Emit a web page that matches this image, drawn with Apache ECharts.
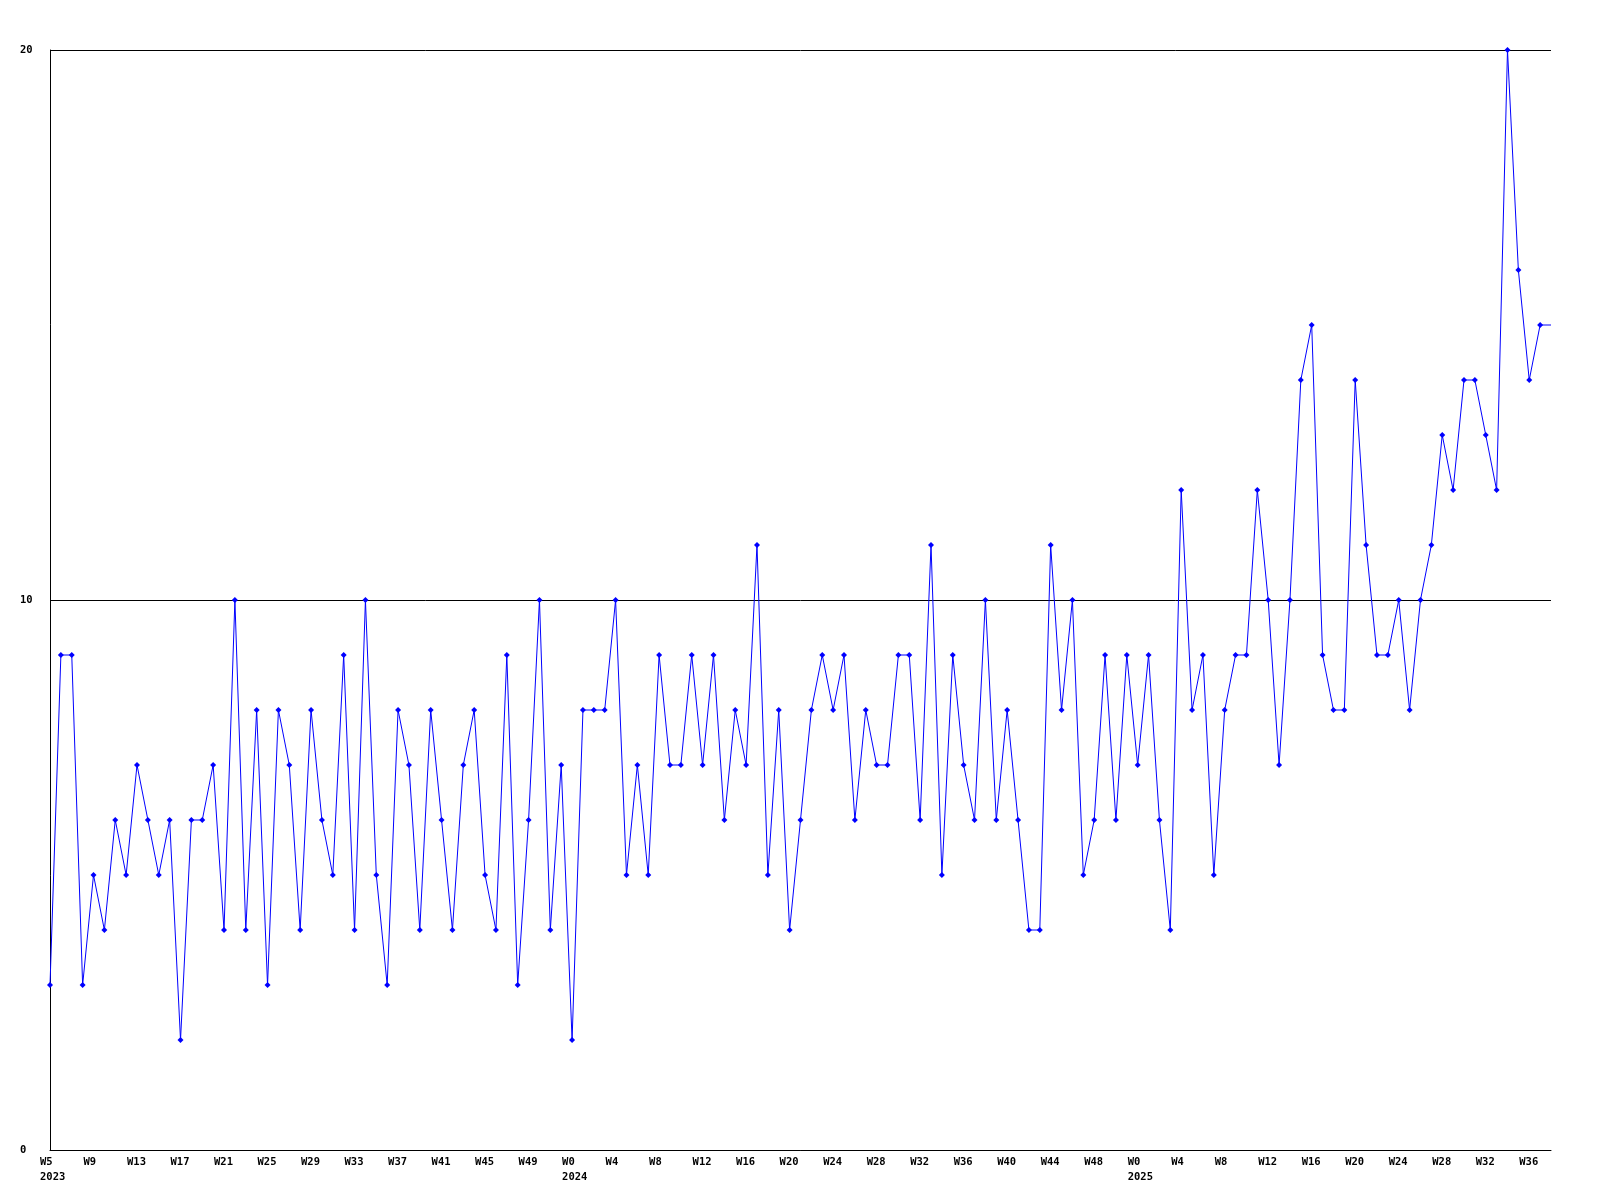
<!DOCTYPE html>
<html>
<head>
<meta charset="utf-8">
<script src="https://cdn.jsdelivr.net/npm/echarts@6/dist/echarts.min.js"></script>
<style>
  html, body { margin: 0; padding: 0; background: #fff; }
  #chart { width: 1600px; height: 1200px; }
</style>
</head>
<body>
<div id="chart"></div>
<script>
// weekly spans: [year, first week, last week]
const yearSpans = [[2023, 5, 52], [2024, 0, 51], [2025, 0, 38]];

const weeks = [];
const years = [];
yearSpans.forEach(([y, a, b]) => {
  for (let w = a; w <= b; w++) { weeks.push(w); years.push(y); }
});
const categories = weeks.map((w, i) => years[i] + '-W' + w);

// one value per week
const counts2023 = [
  3, 9, 9, 3, 5, 4, 6, 5, 7, 6, 5, 6, 2, 6, 6, 7, 4, 10, 4, 8,
  3, 8, 7, 4, 8, 6, 5, 9, 4, 10, 5, 3, 8, 7, 4, 8, 6, 4, 7, 8,
  5, 4, 9, 3, 6, 10, 4, 7
];
const counts2024 = [
  2, 8, 8, 8, 10, 5, 7, 5, 9, 7, 7, 9, 7, 9, 6, 8, 7, 11, 5, 8,
  4, 6, 8, 9, 8, 9, 6, 8, 7, 7, 9, 9, 6, 11, 5, 9, 7, 6, 10, 6,
  8, 6, 4, 4, 11, 8, 10, 5, 6, 9, 6, 9
];
const counts2025 = [
  7, 9, 6, 4, 12, 8, 9, 5, 8, 9, 9, 12, 10, 7, 10, 14, 15, 9, 8, 8,
  14, 11, 9, 9, 10, 8, 10, 11, 13, 12, 14, 14, 13, 12, 20, 16, 14, 15, 15
];
const values = counts2023.concat(counts2024, counts2025);

const yTicks = { min: 0, max: 20, interval: 10 };

const font = '"DejaVu Sans Mono", monospace';

// last point sits on the plot edge, no marker drawn there
const seriesData = values.map((v, i) =>
  i === values.length - 1 ? { value: v, symbol: 'none' } : v);

const chart = echarts.init(document.getElementById('chart'), null, { renderer: 'canvas' });
chart.setOption({
  animation: false,
  backgroundColor: '#ffffff',
  grid: { left: 50, right: 49, top: 50, bottom: 50, containLabel: false },
  xAxis: {
    type: 'category',
    data: categories,
    boundaryGap: false,
    axisLine: { show: true, lineStyle: { color: '#000', width: 1 } },
    axisTick: { show: false },
    splitLine: { show: false },
    axisLabel: {
      interval: 3,
      align: 'left',
      verticalAlign: 'top',
      margin: 5,
      padding: [0, 0, 0, -10],
      fontFamily: font,
      fontWeight: 'bold',
      fontSize: 10.5,
      lineHeight: 15,
      color: '#000',
      formatter: (v, i) => {
        const w = weeks[i];
        const lbl = 'W' + w;
        return (i === 0 || w === 0) ? lbl + '\n' + years[i] : lbl;
      }
    }
  },
  yAxis: {
    type: 'value',
    min: yTicks.min,
    max: yTicks.max,
    interval: yTicks.interval,
    axisLine: { show: true, lineStyle: { color: '#000', width: 1 } },
    axisTick: { show: false },
    splitLine: { show: true, lineStyle: { color: '#000', width: 1 } },
    axisLabel: {
      align: 'left',
      margin: 30,
      fontFamily: font,
      fontWeight: 'bold',
      fontSize: 10.5,
      color: '#000'
    }
  },
  series: [{
    type: 'line',
    data: seriesData,
    showSymbol: true,
    showAllSymbol: true,
    symbol: 'diamond',
    symbolSize: 6,
    itemStyle: { color: '#0000ff' },
    lineStyle: { color: '#0000ff', width: 1 },
    emphasis: { disabled: true }
  }]
});
</script>
</body>
</html>
